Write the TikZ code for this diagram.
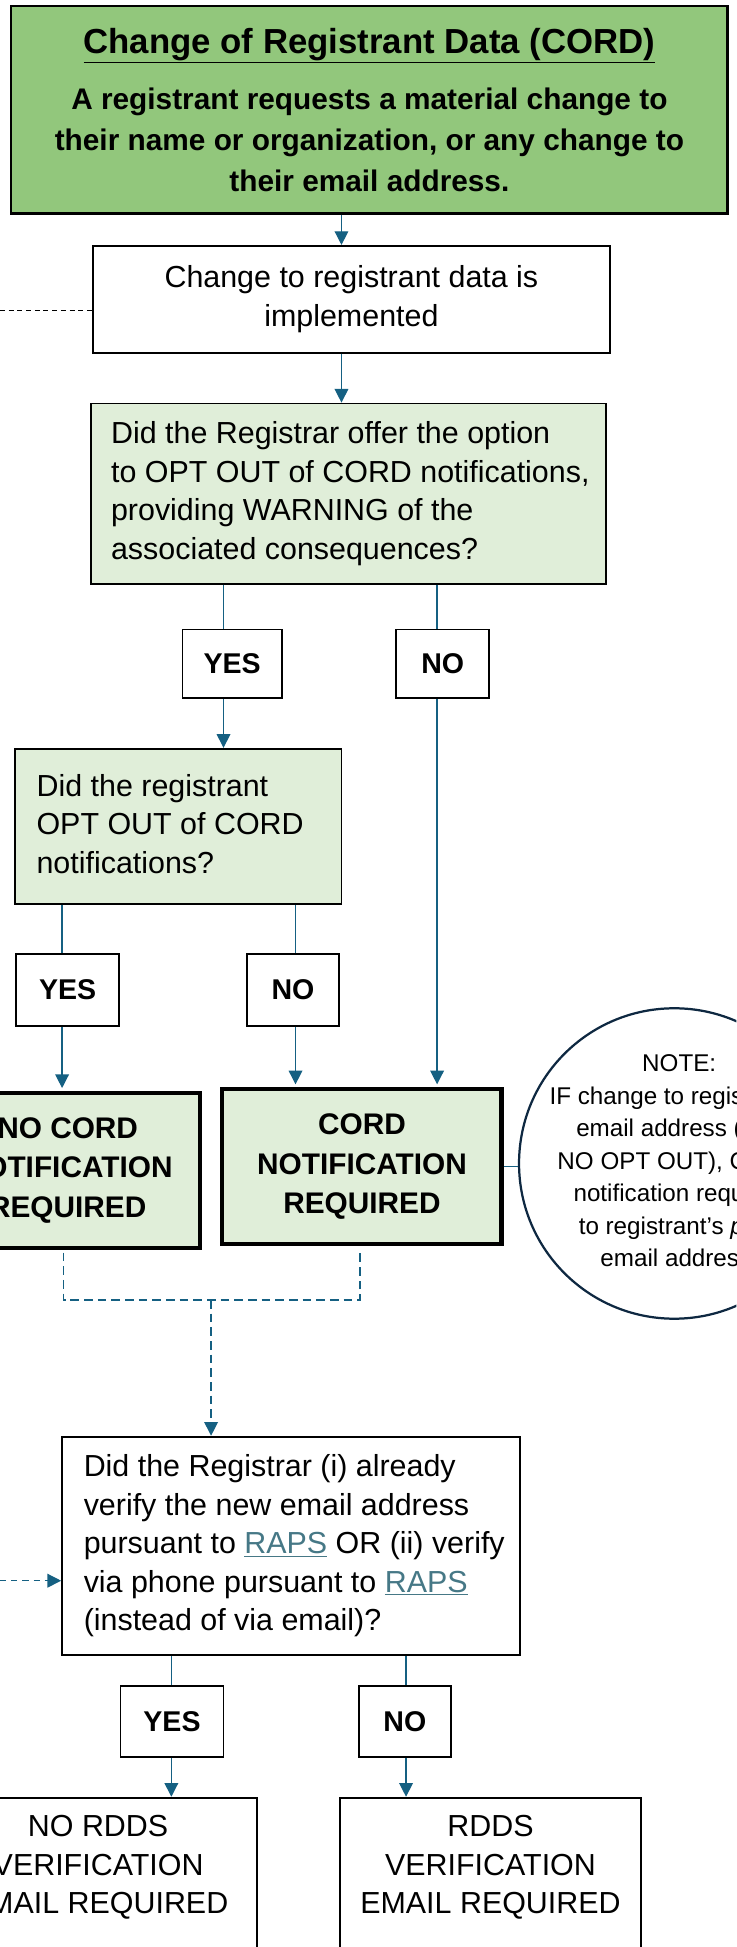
\documentclass[tikz,border=0pt]{standalone}
\usepackage{fontspec}
\setmainfont{Liberation Sans}
\usetikzlibrary{arrows.meta,calc}
\definecolor{headgreen}{RGB}{146,199,124}
\definecolor{lightgreen}{RGB}{224,238,217}
\definecolor{flow}{RGB}{21,96,130}
\definecolor{notedark}{RGB}{14,40,65}
\definecolor{linkc}{RGB}{70,120,134}
\tikzset{
  box/.style={draw=black, line width=1.5pt, rectangle, inner sep=0pt, fill=white},
  normfont/.style={font=\fontsize{24.5}{31}\selectfont},
  boldfont/.style={font=\bfseries\fontsize{24}{32}\selectfont},
  qbox/.style={box, fill=lightgreen},
  lbl/.style={box, font=\bfseries\fontsize{23}{28}\selectfont},
  thickbox/.style={draw=black, line width=3.5pt, fill=lightgreen, boldfont, align=center, inner sep=0pt},
  flowline/.style={draw=flow, line width=1pt},
  flowarrow/.style={flowline, -{Triangle[length=11pt,width=11pt]}},
  flowdash/.style={flowline, dash pattern=on 7pt off 4pt},
  txt/.style={normfont, align=center, inner sep=0pt},
  ltxt/.style={normfont, align=left, inner sep=0pt, anchor=west},
}
\newcommand{\lnk}[1]{{\color{linkc}\underline{#1}}}
\begin{document}
\begin{tikzpicture}[x=1pt,y=-1pt]
\useasboundingbox (0,0) rectangle (593,1568);
\clip (0,0) rectangle (593,1568);
\fill[white] (0,0) rectangle (593,1568);

% nodes
\node[box, fill=headgreen, line width=2pt, minimum width=577pt, minimum height=167pt,
      align=center, font=\bfseries\fontsize{24}{33}\selectfont] (head) at (297.5,88.5)
  {{\fontsize{28}{34}\selectfont\underline{Change of Registrant Data (CORD)}}\\[12pt]
   A registrant requests a material change to\\
   their name or organization, or any change to\\
   their email address.};

\node[box, normfont, align=center, minimum width=416pt, minimum height=86pt] (impl) at (283,241)
  {Change to registrant data is\\implemented};

\node[qbox, minimum width=415pt, minimum height=145pt] (q1) at (280.5,397.5) {};
\node[ltxt] (q1t) at ([xshift=17pt]q1.west)
  {Did the Registrar offer the option\\to OPT OUT of CORD notifications,\\providing WARNING of the\\associated consequences?};

\node[lbl, minimum width=80pt, minimum height=55pt] (yes1) at (187,534.5) {YES};
\node[lbl, minimum width=75pt, minimum height=55pt] (no1) at (356.5,534.5) {NO};

\node[qbox, minimum width=263pt, minimum height=125pt] (q2) at (143.5,665.5) {};
\node[ltxt] (q2t) at ([xshift=18pt,yshift=2pt]q2.west)
  {Did the registrant\\OPT OUT of CORD\\notifications?};

\node[lbl, minimum width=83pt, minimum height=58pt] (yes2) at (54.5,797) {YES};
\node[lbl, minimum width=74pt, minimum height=58pt] (no2) at (236,797) {NO};

\node[thickbox, minimum width=213pt, minimum height=125pt] (nocord) at (54.5,942.5)
  {NO CORD\\NOTIFICATION\\REQUIRED};
\node[thickbox, minimum width=225pt, minimum height=125pt] (cord) at (291.5,939.5)
  {CORD\\NOTIFICATION\\REQUIRED};

\node[circle, draw=notedark, line width=1.8pt, fill=white, minimum size=250pt, inner sep=0pt] (note) at (543,937) {};
\node[font=\fontsize{19.5}{26.2}\selectfont, align=center, inner sep=0pt] (notetext) at (547,935)
  {NOTE:\\IF change to registrant’s\\email address (and\\NO OPT OUT), CORD\\notification required\\to registrant’s \textit{prior}\\email address.};

\node[box, minimum width=369pt, minimum height=176pt] (q3) at (234.5,1245) {};
\node[ltxt] (q3t) at ([xshift=18pt]q3.west)
  {Did the Registrar (i) already\\verify the new email address\\pursuant to \lnk{RAPS} OR (ii) verify\\via phone pursuant to \lnk{RAPS}\\(instead of via email)?};

\node[lbl, minimum width=83pt, minimum height=57pt] (yes3) at (138.5,1386.5) {YES};
\node[lbl, minimum width=74pt, minimum height=57pt] (no3) at (326,1386.5) {NO};

\node[box, minimum width=258pt, minimum height=200pt, anchor=north] (nordds) at (78,1447) {};
\node[txt, anchor=north] (norddst) at (79,1462) {NO RDDS\\VERIFICATION\\EMAIL REQUIRED};
\node[box, minimum width=242pt, minimum height=200pt, anchor=north] (rdds) at (395,1447) {};
\node[txt, anchor=north] (rddst) at (395,1462) {RDDS\\VERIFICATION\\EMAIL REQUIRED};

% x positions of connectors
\coordinate (c1) at (275,0);
\coordinate (c2) at (180,0);
\coordinate (c3) at (352,0);
\coordinate (c4) at (50,0);
\coordinate (c5) at (238,0);
\coordinate (c6) at (138,0);
\coordinate (c7) at (327,0);

\draw[flowarrow] (head.south -| c1) -- (impl.north -| c1);
\draw[flowarrow] (impl.south -| c1) -- (q1.north -| c1);

\draw[flowline] (q1.south -| c2) -- (yes1.north -| c2);
\draw[flowarrow] (yes1.south -| c2) -- (q2.north -| c2);
\draw[flowline] (q1.south -| c3) -- (no1.north -| c3);
\draw[flowarrow] (no1.south -| c3) -- ([yshift=2pt]cord.north -| c3);

\draw[flowline] (q2.south -| c4) -- (yes2.north -| c4);
\draw[flowarrow] (yes2.south -| c4) -- ([yshift=2pt]nocord.north -| c4);
\draw[flowline] (q2.south -| c5) -- (no2.north -| c5);
\draw[flowarrow] (no2.south -| c5) -- ([yshift=2pt]cord.north -| c5);

\draw[flowline] (cord.east) -- (cord.east -| note.west);

% dashed merge
\coordinate (dL) at (51,1047);
\coordinate (dR) at (290,1047);
\coordinate (dM) at (170,1047);
\draw[flowdash] ([yshift=-2pt]nocord.south -| dL) -- (dL) -- (dR) -- ([yshift=-2pt]cord.south -| dR);
\draw[flowdash, -{Triangle[length=11pt,width=11pt]}] (dM) -- (q3.north -| dM);

% left dashed entries
\coordinate (lf) at (0,1273);
\draw[flowline, dash pattern=on 5pt off 4pt, -{Triangle[length=11pt,width=11pt]}] (lf) -- (lf -| q3.west);
\coordinate (lf2) at (0,250);
\draw[black, line width=0.8pt, dash pattern=on 4pt off 3pt] (lf2) -- (lf2 -| impl.west);

\draw[flowline] (q3.south -| c6) -- (yes3.north -| c6);
\draw[flowarrow] (yes3.south -| c6) -- (nordds.north -| c6);
\draw[flowline] (q3.south -| c7) -- (no3.north -| c7);
\draw[flowarrow] (no3.south -| c7) -- (rdds.north -| c7);
\end{tikzpicture}
\end{document}
